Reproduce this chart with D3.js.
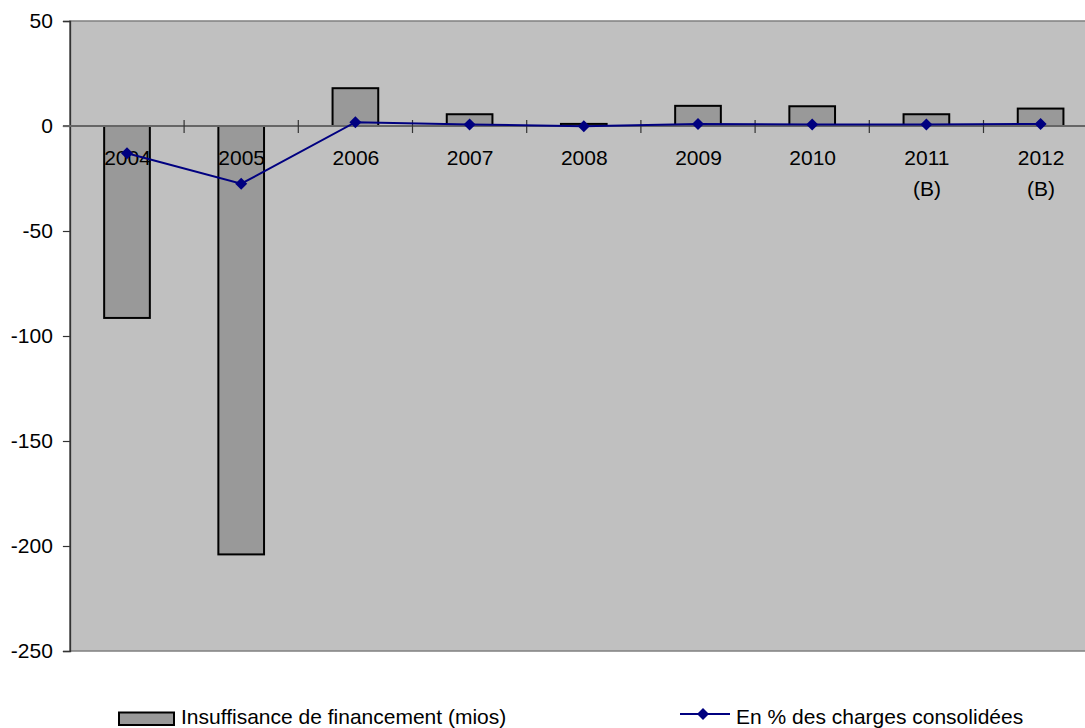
<!DOCTYPE html>
<html>
<head>
<meta charset="utf-8">
<script src="https://cdn.jsdelivr.net/npm/d3@7"></script>
<style>
  html, body { margin: 0; padding: 0; background: #fff; }
  svg { display: block; }
  text { font-family: "Liberation Sans", Arial, sans-serif; fill: #000; }
</style>
</head>
<body>
<svg id="chart" width="1085" height="728"></svg>
<script>
const categories = ["2004", "2005", "2006", "2007", "2008", "2009", "2010", "2011\n(B)", "2012\n(B)"];
const insuffisance = [-91.4, -204, 18, 5.6, 1, 9.6, 9.4, 5.6, 8.3];
const pourcentCharges = [-13, -27.5, 1.8, 0.7, -0.1, 1, 0.7, 0.7, 1];
const yTicks = [50, 0, -50, -100, -150, -200, -250];
const seriesNames = ["Insuffisance de financement (mios)", "En % des charges consolidées"];

const svg = d3.select("#chart");
const pLeft = 69.9, pRight = 1097.7, pTop = 21, pBottom = 651;
const FS = 21;

const x = d3.scaleBand().domain(categories).range([pLeft, pRight]).paddingInner(0.6).paddingOuter(0.3);
const xc = d3.scaleBand().domain(categories).range([pLeft, pRight]).padding(0);
const y = d3.scaleLinear().domain([-250, 50]).range([pBottom, pTop]);

// plot background
svg.append("rect").attr("x", pLeft).attr("y", pTop).attr("width", pRight - pLeft).attr("height", pBottom - pTop)
  .attr("fill", "#c0c0c0").attr("stroke", "#808080").attr("stroke-width", 1.5);

// bars
svg.append("g").selectAll("rect").data(categories).join("rect")
  .attr("x", d => x(d))
  .attr("width", x.bandwidth())
  .attr("y", (d, i) => y(Math.max(0, insuffisance[i])))
  .attr("height", (d, i) => Math.abs(y(insuffisance[i]) - y(0)))
  .attr("fill", "#999999").attr("stroke", "#000").attr("stroke-width", 2);

// y axis
const yAxis = d3.axisLeft(y).tickValues(yTicks).tickSize(7).tickPadding(10).tickFormat(d => String(d));
const gy = svg.append("g").attr("transform", `translate(${pLeft},0)`).call(yAxis);
gy.select(".domain").attr("stroke", "#333").attr("stroke-width", 1.5);
gy.selectAll(".tick line").attr("stroke", "#333").attr("stroke-width", 1.2);
gy.selectAll(".tick text").attr("font-size", FS).attr("font-family", "Liberation Sans, Arial, sans-serif").attr("fill", "#000");

// x axis on zero line (cross ticks)
const gx = svg.append("g").attr("transform", `translate(0,${y(0)})`);
gx.append("line").attr("x1", pLeft - 7).attr("x2", 1085).attr("y1", 0).attr("y2", 0)
  .attr("stroke", "#666").attr("stroke-width", 2);
gx.selectAll("line.tk").data(categories.slice(1)).join("line").attr("class", "tk")
  .attr("x1", d => xc(d)).attr("x2", d => xc(d)).attr("y1", -6).attr("y2", 7)
  .attr("stroke", "#333").attr("stroke-width", 1.2);

// x labels
const lbl = svg.append("g").selectAll("text").data(categories).join("text")
  .attr("text-anchor", "middle").attr("font-size", FS)
  .attr("x", d => xc(d) + xc.bandwidth() / 2 + 0.5)
  .attr("y", 165);
lbl.each(function(d) {
  const parts = d.split("\n");
  const t = d3.select(this);
  parts.forEach((p, k) => {
    t.append("tspan").attr("x", t.attr("x")).attr("dy", k === 0 ? 0 : 31).text(p);
  });
});

// line series
const line = d3.line().x((d, i) => xc(categories[i]) + xc.bandwidth() / 2).y(d => y(d));
svg.append("path").datum(pourcentCharges).attr("d", line)
  .attr("fill", "none").attr("stroke", "#000080").attr("stroke-width", 2);
const diamond = d3.symbol().type(d3.symbolDiamond2).size(92);
svg.append("g").selectAll("path").data(pourcentCharges).join("path")
  .attr("transform", (d, i) => `translate(${xc(categories[i]) + xc.bandwidth() / 2},${y(d)})`)
  .attr("d", diamond).attr("fill", "#000080");

// legend
const lg = svg.append("g");
lg.append("rect").attr("x", 119).attr("y", 712.5).attr("width", 55).attr("height", 12.5)
  .attr("fill", "#999999").attr("stroke", "#000").attr("stroke-width", 2);
lg.append("text").attr("x", 181).attr("y", 724).attr("font-size", FS).text(seriesNames[0]);
lg.append("line").attr("x1", 680).attr("x2", 730).attr("y1", 714).attr("y2", 714)
  .attr("stroke", "#000080").attr("stroke-width", 2);
lg.append("path").attr("transform", "translate(703,714)").attr("d", diamond).attr("fill", "#000080");
lg.append("text").attr("x", 736).attr("y", 724).attr("font-size", FS).text(seriesNames[1]);
</script>
</body>
</html>
